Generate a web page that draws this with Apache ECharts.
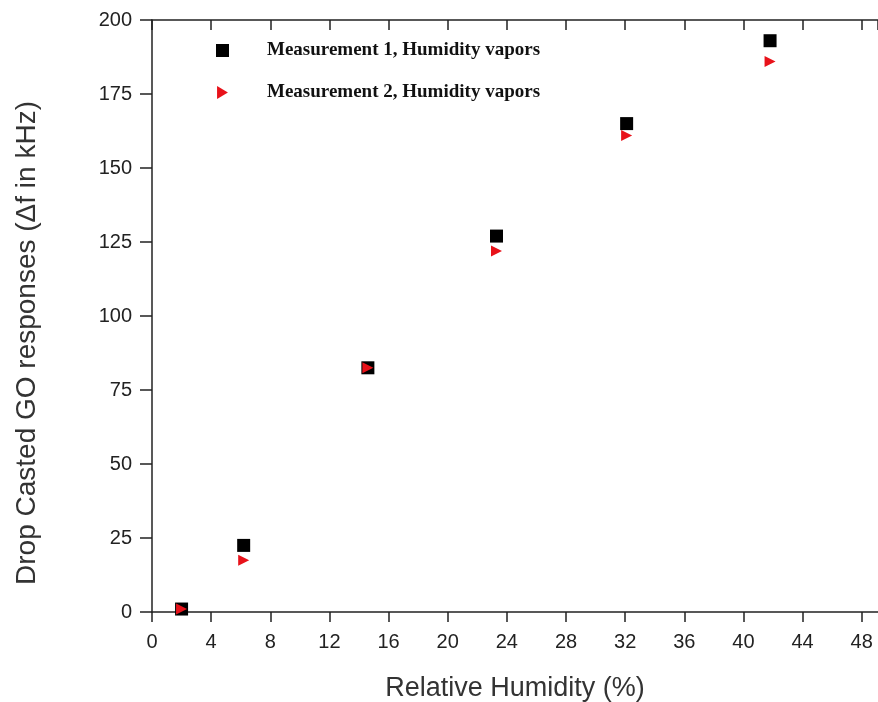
<!DOCTYPE html>
<html><head><meta charset="utf-8">
<script src="https://cdn.jsdelivr.net/npm/echarts@6/dist/echarts.min.js"></script>
<style>html,body{margin:0;padding:0;background:#fff}#c{width:878px;height:702px}</style>
</head><body><div id="c"></div>
<script>
const humidity1 = [2.0, 6.2, 14.6, 23.3, 32.1, 41.8];
const resp1 = [1, 22.5, 82.5, 127, 165, 193];
const humidity2 = [2.0, 6.2, 14.6, 23.3, 32.1, 41.8];
const resp2 = [1, 17.5, 82.5, 122, 161, 186];
const seriesNames = ['Measurement 1, Humidity vapors', 'Measurement 2, Humidity vapors'];
const xTitle = 'Relative Humidity (%)';
const yTitle = 'Drop Casted GO responses (\u0394f in kHz)';

const pts = (xs, ys) => xs.map((x, i) => [x, ys[i]]);
const chart = echarts.init(document.getElementById('c'));
const axisLine = {lineStyle: {color: '#222', width: 1.5}};
const triPath = 'path://M0,0L10,6L0,12Z';
chart.setOption({
  animation: false,
  grid: {left: 152, top: 20, right: 0, bottom: 90, containLabel: false, outerBoundsMode: 'none'},
  legend: {
    orient: 'vertical', left: 211, top: 36, itemGap: 23,
    itemWidth: 13, itemHeight: 13,
    textStyle: {fontFamily: 'Liberation Serif', fontWeight: 'bold', fontSize: 19, color: '#111', padding: [0, 0, 0, 33]},
    data: [{name: seriesNames[0], icon: 'rect'}, {name: seriesNames[1], icon: triPath}]
  },
  xAxis: [{
    type: 'value', min: 0, max: 49.1, interval: 4,
    name: xTitle, nameLocation: 'middle', nameGap: 63,
    nameTextStyle: {fontFamily: 'Liberation Sans', fontSize: 27, color: '#333'},
    axisLine: axisLine, axisTick: {length: 10, lineStyle: {color: '#222', width: 1.5}},
    axisLabel: {fontFamily: 'Liberation Sans', fontSize: 20, color: '#222', margin: 20, showMaxLabel: false},
    splitLine: {show: false}
  }, {
    type: 'value', position: 'top', min: 0, max: 49.1, interval: 4,
    axisLine: axisLine, axisTick: {inside: true, length: 10, lineStyle: {color: '#222', width: 1.5}},
    axisLabel: {show: false}, splitLine: {show: false}
  }],
  yAxis: {
    type: 'value', min: 0, max: 200, interval: 25,
    name: yTitle, nameLocation: 'middle', nameGap: 111,
    nameTextStyle: {fontFamily: 'Liberation Sans', fontSize: 28, color: '#333', padding: [0, 54, 0, 0]},
    axisLine: {show: true, lineStyle: {color: '#222', width: 1.5}},
    axisTick: {show: true, length: 12, lineStyle: {color: '#222', width: 1.5}},
    axisLabel: {fontFamily: 'Liberation Sans', fontSize: 20, color: '#222', margin: 20},
    splitLine: {show: false}
  },
  series: [{
    name: seriesNames[0], type: 'scatter', symbol: 'rect', symbolSize: 13,
    itemStyle: {color: '#000', opacity: 1}, data: pts(humidity1, resp1)
  }, {
    name: seriesNames[1], type: 'scatter', symbol: 'triangle', symbolRotate: -90, symbolSize: 11,
    itemStyle: {color: '#e8121a', opacity: 1}, data: pts(humidity2, resp2)
  }]
});
</script></body></html>
